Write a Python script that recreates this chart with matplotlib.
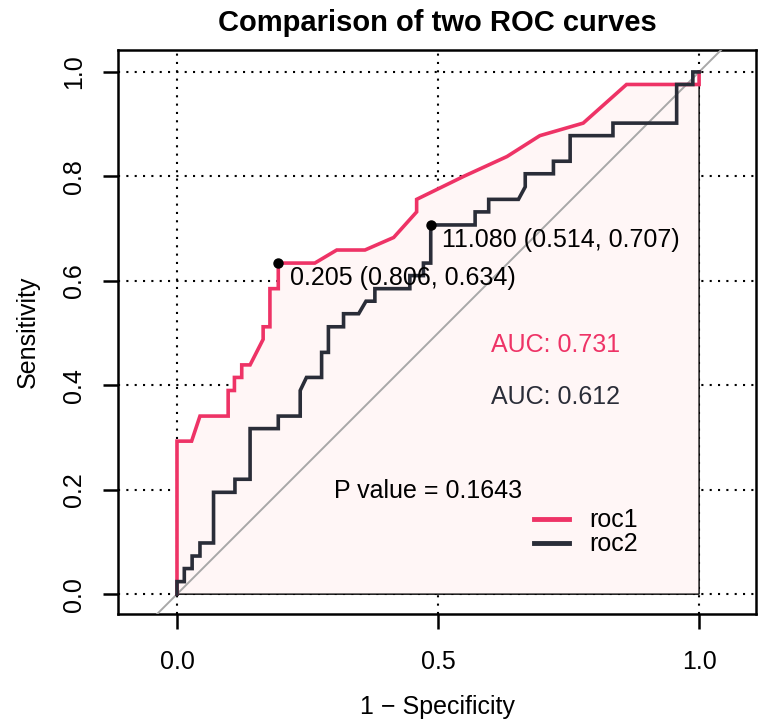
import matplotlib
matplotlib.use("Agg")
import matplotlib.pyplot as plt
from matplotlib.lines import Line2D

plt.rcParams['font.family'] = ['Liberation Sans', 'DejaVu Sans']

# ROC curve 1 (false positive rate = 1 - specificity, sensitivity)
roc1_fpr = [0, 0, 0.028, 0.044, 0.098, 0.098, 0.110, 0.110, 0.124, 0.124, 0.140, 0.165, 0.165,
            0.178, 0.178, 0.194, 0.194, 0.264, 0.306, 0.360, 0.415, 0.459, 0.459, 0.549, 0.632,
            0.695, 0.778, 0.861, 1.0, 1.0]
roc1_tpr = [0, 0.293, 0.293, 0.341, 0.341, 0.390, 0.390, 0.415, 0.415, 0.439, 0.439, 0.488, 0.512,
            0.512, 0.585, 0.585, 0.634, 0.634, 0.659, 0.659, 0.683, 0.732, 0.756, 0.800, 0.838,
            0.878, 0.902, 0.976, 0.976, 1.0]

# ROC curve 2
roc2_fpr = [0, 0, 0.014, 0.014, 0.029, 0.029, 0.044, 0.044, 0.070, 0.070, 0.111, 0.111, 0.140,
            0.140, 0.194, 0.194, 0.236, 0.236, 0.248, 0.277, 0.277, 0.290, 0.290, 0.319, 0.319,
            0.348, 0.362, 0.379, 0.379, 0.446, 0.446, 0.472, 0.472, 0.486, 0.486, 0.571, 0.571,
            0.597, 0.597, 0.654, 0.667, 0.667, 0.721, 0.721, 0.753, 0.753, 0.835, 0.835, 0.957,
            0.957, 0.988, 0.988, 1.0]
roc2_tpr = [0, 0.024, 0.024, 0.049, 0.049, 0.073, 0.073, 0.098, 0.098, 0.195, 0.195, 0.220, 0.220,
            0.317, 0.317, 0.341, 0.341, 0.390, 0.415, 0.415, 0.463, 0.463, 0.512, 0.512, 0.537,
            0.537, 0.561, 0.561, 0.585, 0.585, 0.610, 0.610, 0.634, 0.634, 0.707, 0.707, 0.732,
            0.732, 0.756, 0.756, 0.780, 0.805, 0.805, 0.829, 0.829, 0.878, 0.878, 0.902, 0.902,
            0.976, 0.976, 1.0, 1.0]

# best thresholds: (threshold, specificity, sensitivity)
thr1 = (0.205, 0.806, 0.634)
thr2 = (11.080, 0.514, 0.707)
auc1, auc2 = 0.731, 0.612
p_value = 0.1643
labels = ["roc1", "roc2"]
xticks = [0.0, 0.5, 1.0]
yticks = [0.0, 0.2, 0.4, 0.6, 0.8, 1.0]

c1 = "#EE3366"
c2 = "#2A2D38"
fs = 18

fig = plt.figure(figsize=(7.84, 7.28), dpi=100)
ax = fig.add_axes([0.1505, 0.1566, 0.9643 - 0.1505, 0.9313 - 0.1566])
ax.set_xlim(-0.113, 1.109)
ax.set_ylim(-0.038, 1.042)

# grid
for x in xticks:
    ax.axvline(x, color="black", lw=1.5, ls=(0, (1, 3)), zorder=1)
for y in yticks:
    ax.axhline(y, color="black", lw=1.5, ls=(0, (1, 3)), zorder=1)

# AUC polygon for roc1
poly_x = list(roc1_fpr) + [1.0, 0.0]
poly_y = list(roc1_tpr) + [0.0, 0.0]
ax.fill(poly_x, poly_y, facecolor="#FFF6F6", edgecolor="black", lw=1.0, zorder=2)

# diagonal
ax.axline((0, 0), (1, 1), color="#A8A8A8", lw=1.4, zorder=3)

ax.plot(roc1_fpr, roc1_tpr, color=c1, lw=2.6, zorder=4, solid_joinstyle="miter")
ax.plot(roc2_fpr, roc2_tpr, color=c2, lw=2.6, zorder=4, solid_joinstyle="miter")

# thresholds
for thr in (thr1, thr2):
    fx, sy = 1 - thr[1], thr[2]
    ax.plot([fx], [sy], "o", color="black", ms=6.5, zorder=5)
    ax.text(fx + 0.022, sy - 0.005, f"{thr[0]:.3f} ({thr[1]:.3f}, {thr[2]:.3f})",
            ha="left", va="top", fontsize=fs, zorder=6)

ax.text(0.602, 0.5, f"AUC: {auc1:.3f}", color=c1, ha="left", va="top", fontsize=fs, zorder=6)
ax.text(0.602, 0.4, f"AUC: {auc2:.3f}", color=c2, ha="left", va="top", fontsize=fs, zorder=6)
ax.text(0.30, 0.197, f"P value = {p_value:.4f}", ha="left", va="center", fontsize=fs, zorder=6)

handles = [Line2D([], [], color=c1, lw=3.5), Line2D([], [], color=c2, lw=3.5)]
leg = ax.legend(handles, labels, loc="upper left", bbox_to_anchor=(0.636, 0.205),
                frameon=False, fontsize=fs, handlelength=1.4, handletextpad=0.8,
                labelspacing=0.0, borderaxespad=0)

ax.set_xticks(xticks)
ax.set_xticklabels([f"{v:.1f}" for v in xticks])
ax.set_yticks(yticks)
ax.set_yticklabels([f"{v:.1f}" for v in yticks], rotation=90, va="center")
ax.tick_params(direction="out", length=11, width=1.8, labelsize=fs)
ax.tick_params(axis="x", pad=15)
ax.tick_params(axis="y", pad=12)
for s in ax.spines.values():
    s.set_linewidth(1.8)

ax.set_xlabel("1 \u2212 Specificity", fontsize=fs, labelpad=15)
ax.set_ylabel("Sensitivity", fontsize=fs, labelpad=16)
ax.set_title("Comparison of two ROC curves", fontsize=21, fontweight="bold", pad=14)

fig.savefig("out.png", dpi=100)
